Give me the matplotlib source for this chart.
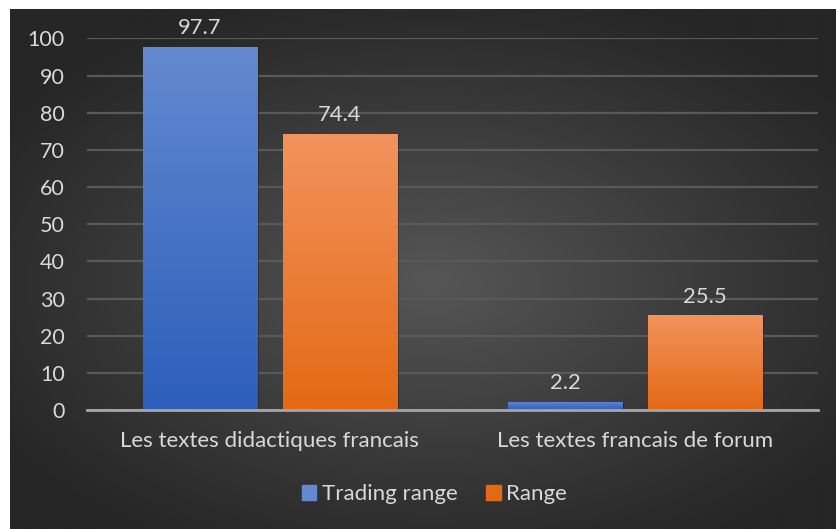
import numpy as np
import matplotlib.pyplot as plt
from matplotlib.colors import LinearSegmentedColormap

plt.rcParams['font.family'] = ['Lato', 'DejaVu Sans']

categories = ["Les textes didactiques francais", "Les textes francais de forum"]
series_names = ["Trading range", "Range"]
trading_range = [97.7, 2.2]
range_vals = [74.4, 25.5]
yticks = [0, 10, 20, 30, 40, 50, 60, 70, 80, 90, 100]

text_col = "#d9d9d9"
blue_top, blue_bot = "#6489d0", "#2c5eba"
orange_top, orange_bot = "#f2935d", "#e46914"

W, H = 837, 529
fig = plt.figure(figsize=(W / 100, H / 100), dpi=100)
fig.patch.set_facecolor("white")

# dark chart panel with a soft radial light in the middle
bg = fig.add_axes([10 / W, 0, (W - 10) / W, (H - 9) / H])
bg.set_axis_off()
gx, gy = np.meshgrid(np.linspace(-1, 1, 400), np.linspace(-1, 1, 260))
r = np.sqrt(((gx - 0.02) / 1.0) ** 2 + ((gy - 0.05) / 0.95) ** 2)
shade = np.clip(1 - r / 1.25, 0, 1) ** 1.1
bg_cmap = LinearSegmentedColormap.from_list("bg", ["#262626", "#565656"])
bg.imshow(shade, cmap=bg_cmap, aspect="auto", extent=[0, 1, 0, 1],
          interpolation="bicubic")

ax = fig.add_axes([87 / W, (H - 410) / H, (818 - 87) / W, (410 - 38.5) / H])
ax.patch.set_alpha(0)

x = np.arange(len(categories))
width = 0.312
offset = 0.1915

bars1 = ax.bar(x - offset, trading_range, width, color=blue_bot, zorder=3,
               label=series_names[0])
bars2 = ax.bar(x + offset, range_vals, width, color=orange_bot, zorder=3,
               label=series_names[1])


def fill_gradient(bars, top, bot):
    cmap = LinearSegmentedColormap.from_list("g", [bot, top])
    grad = np.linspace(0, 1, 256).reshape(-1, 1)
    for b in bars:
        x0, y0 = b.get_x(), b.get_y()
        w, h = b.get_width(), b.get_height()
        im = ax.imshow(grad, cmap=cmap, origin="lower", aspect="auto",
                       extent=[x0, x0 + w, y0, y0 + h], zorder=3.5)
        im.set_clip_path(b)
        # faint shadow on the right edge
        ax.add_patch(plt.Rectangle((x0 + w, y0), 0.006, h, color="black",
                                   alpha=0.25, lw=0, zorder=2.9))


fill_gradient(bars1, blue_top, blue_bot)
fill_gradient(bars2, orange_top, orange_bot)

for bars in (bars1, bars2):
    for b in bars:
        ax.annotate(f"{b.get_height():.1f}",
                    (b.get_x() + b.get_width() / 2, b.get_height()),
                    xytext=(0, 13.5), textcoords="offset points",
                    ha="center", va="center", color=text_col, fontsize=15.8,
                    annotation_clip=False)

ax.set_xlim(-0.5, 1.5)
ax.set_ylim(0, 100)
ax.set_yticks(yticks)
ax.set_xticks(x)
ax.set_xticklabels(categories)
ax.tick_params(axis="y", length=0, pad=16, labelsize=15.5, labelcolor=text_col)
ax.tick_params(axis="x", length=0, pad=15, labelsize=16, labelcolor=text_col)
ax.grid(axis="y", color="#595959", lw=1.6, zorder=1)
for s in ("top", "right", "left"):
    ax.spines[s].set_visible(False)
ax.spines["bottom"].set_color("#a6a6a6")
ax.spines["bottom"].set_linewidth(2)
ax.spines["bottom"].set_zorder(4)

leg = fig.legend(handles=[bars1, bars2], labels=series_names, loc="center",
                 bbox_to_anchor=(0.519, 0.066), ncol=2, frameon=False,
                 fontsize=16, handlelength=0.65, handleheight=0.65,
                 handletextpad=0.25, columnspacing=1.3)
leg.legend_handles[0].set_color(blue_top)
leg.legend_handles[1].set_color(orange_bot)
for t in leg.get_texts():
    t.set_color(text_col)

fig.savefig("out.png", dpi=100)
